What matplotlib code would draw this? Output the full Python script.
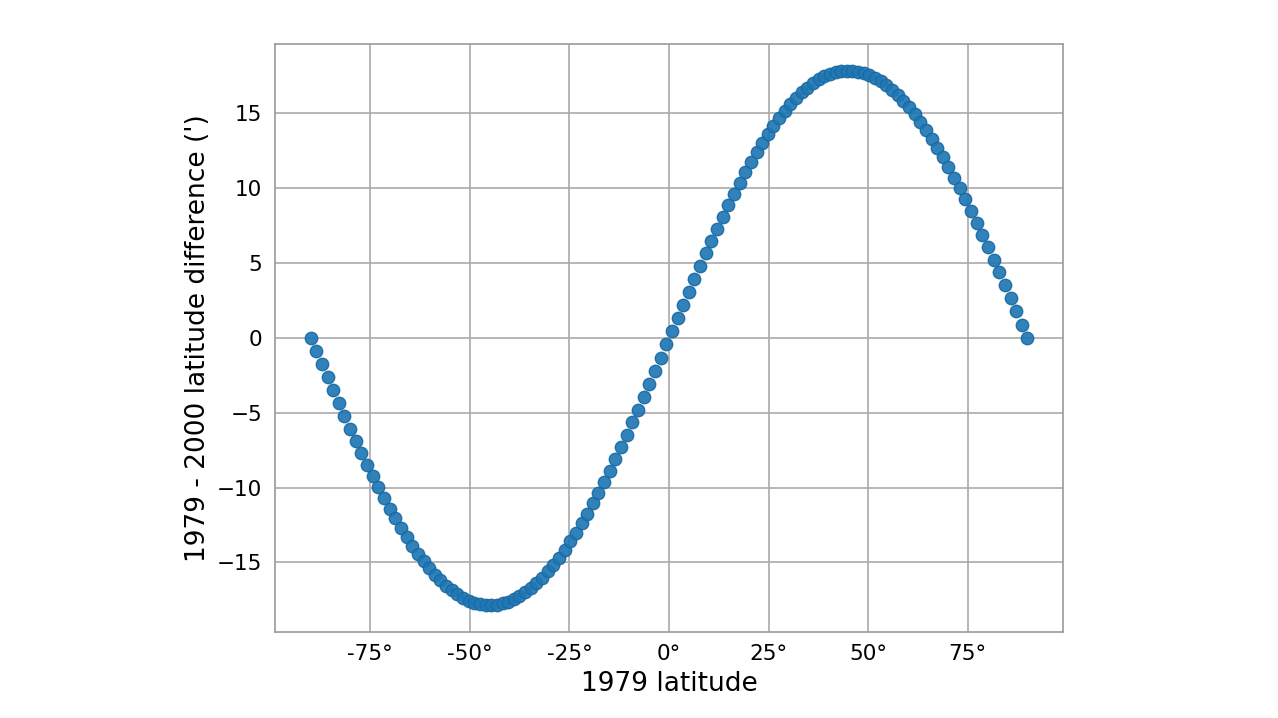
import matplotlib.pyplot as plt
import matplotlib.ticker as mticker

# 1979 latitude (degrees)
lat_1979 = [
    -90.00, -88.58, -87.17, -85.75, -84.33, -82.91, -81.50, -80.08, -78.66, -77.24,
    -75.83, -74.41, -72.99, -71.57, -70.16, -68.74, -67.32, -65.91, -64.49, -63.07,
    -61.65, -60.24, -58.82, -57.40, -55.98, -54.57, -53.15, -51.73, -50.31, -48.90,
    -47.48, -46.06, -44.65, -43.23, -41.81, -40.39, -38.98, -37.56, -36.14, -34.72,
    -33.31, -31.89, -30.47, -29.06, -27.64, -26.22, -24.80, -23.39, -21.97, -20.55,
    -19.13, -17.72, -16.30, -14.88, -13.46, -12.05, -10.63, -9.21, -7.80, -6.38,
    -4.96, -3.54, -2.13, -0.71,
    0.71, 2.13, 3.54, 4.96, 6.38, 7.80, 9.21, 10.63, 12.05, 13.46,
    14.88, 16.30, 17.72, 19.13, 20.55, 21.97, 23.39, 24.80, 26.22, 27.64,
    29.06, 30.47, 31.89, 33.31, 34.72, 36.14, 37.56, 38.98, 40.39, 41.81,
    43.23, 44.65, 46.06, 47.48, 48.90, 50.31, 51.73, 53.15, 54.57, 55.98,
    57.40, 58.82, 60.24, 61.65, 63.07, 64.49, 65.91, 67.32, 68.74, 70.16,
    71.57, 72.99, 74.41, 75.83, 77.24, 78.66, 80.08, 81.50, 82.91, 84.33,
    85.75, 87.17, 88.58, 90.00,
]

# 1979 - 2000 latitude difference (arcminutes)
lat_diff = [
    0.000, -0.883, -1.763, -2.640, -3.510, -4.371, -5.221, -6.059, -6.882, -7.687,
    -8.475, -9.242, -9.985, -10.704, -11.398, -12.063, -12.700, -13.305, -13.878, -14.417,
    -14.919, -15.385, -15.813, -16.204, -16.554, -16.864, -17.132, -17.359, -17.544, -17.685,
    -17.783, -17.838, -17.849, -17.816, -17.740, -17.620, -17.457, -17.251, -17.003, -16.714,
    -16.384, -16.014, -15.604, -15.156, -14.671, -14.150, -13.595, -13.007, -12.388, -11.736,
    -11.055, -10.347, -9.617, -8.861, -8.084, -7.287, -6.472, -5.642, -4.797, -3.941,
    -3.076, -2.202, -1.323, -0.441,
    0.441, 1.323, 2.202, 3.076, 3.941, 4.797, 5.642, 6.472, 7.287, 8.084,
    8.861, 9.617, 10.347, 11.055, 11.736, 12.388, 13.007, 13.595, 14.150, 14.671,
    15.156, 15.604, 16.014, 16.384, 16.714, 17.003, 17.251, 17.457, 17.620, 17.740,
    17.816, 17.849, 17.838, 17.783, 17.685, 17.544, 17.359, 17.132, 16.864, 16.554,
    16.204, 15.813, 15.385, 14.919, 14.417, 13.878, 13.305, 12.700, 12.063, 11.398,
    10.704, 9.985, 9.242, 8.475, 7.687, 6.882, 6.059, 5.221, 4.371, 3.510,
    2.640, 1.763, 0.883, 0.000,
]

fig = plt.figure(figsize=(12.78, 7.18), dpi=100)
ax = fig.add_axes([0.215, 0.12, 0.617, 0.819])

ax.scatter(lat_1979, lat_diff, s=80, color='#1f77b4', edgecolor='#1a6aa3',
           alpha=0.92, zorder=3)

ax.xaxis.set_major_locator(mticker.MultipleLocator(25))
ax.xaxis.set_major_formatter(mticker.FuncFormatter(lambda v, p: '%d°' % v))
ax.yaxis.set_major_locator(mticker.MultipleLocator(5))

ax.grid(True, color='#aaaaaa', linewidth=1.2)
ax.set_axisbelow(True)
for s in ax.spines.values():
    s.set_color('#999999')
    s.set_linewidth(1.2)
ax.tick_params(length=0, labelsize=15.5, pad=9)

ax.set_xlabel('1979 latitude', fontsize=19, labelpad=5)
ax.set_ylabel("1979 - 2000 latitude difference (')", fontsize=19, labelpad=4)

fig.savefig('out.png', dpi=100)
